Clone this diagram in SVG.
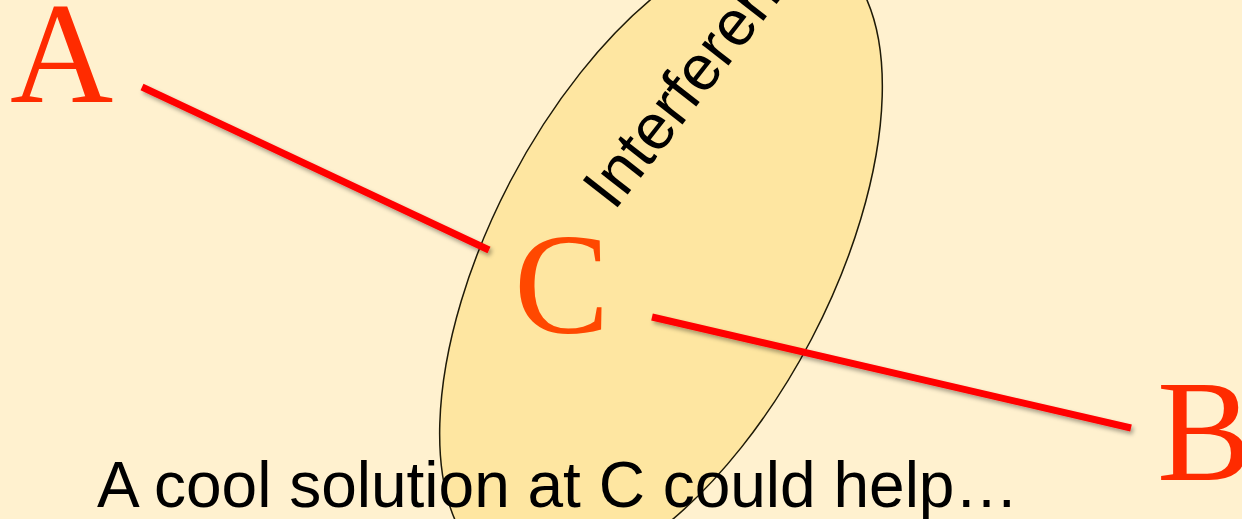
<svg xmlns="http://www.w3.org/2000/svg" width="1242" height="519" viewBox="0 0 1242 519">
<defs>
<style>
.bg{fill:#FFF1CF}
.lens{fill:#FEE6A1;stroke:#1e1a08;stroke-width:1.5}
.wire{stroke:#FF0000;stroke-width:7;fill:none;filter:url(#sh)}
.big{font-family:"Liberation Serif","Times New Roman",serif;font-size:143px}
.sans{font-family:"Liberation Sans",Arial,sans-serif;fill:#000}
</style>
<filter id="sh" x="-10%" y="-50%" width="120%" height="200%">
<feDropShadow dx="2" dy="3" stdDeviation="2" flood-color="#000" flood-opacity="0.35"/>
</filter>
</defs>
<rect class="bg" x="0" y="0" width="1242" height="519"/>
<g id="interference">
<ellipse class="lens" cx="661" cy="260" rx="350" ry="170" transform="rotate(-62.4 661 260)"/>
<text class="sans" font-size="64" transform="translate(614,212) rotate(-52)">Interference</text>
</g>
<g id="connectors">
<line class="wire" x1="142" y1="87" x2="489" y2="250"/>
<line class="wire" x1="652" y1="317" x2="1131" y2="428"/>
</g>
<g id="nodeA"><text class="big" x="10" y="102" fill="#FF2B00">A</text></g>
<g id="nodeC"><text class="big" x="514" y="333" fill="#FF4800">C</text></g>
<g id="nodeB"><text class="big" x="1157" y="480" fill="#FF2B00">B</text></g>
<g id="caption"><text class="sans" font-size="64" x="97" y="507">A cool solution at C could help…</text></g>
</svg>
